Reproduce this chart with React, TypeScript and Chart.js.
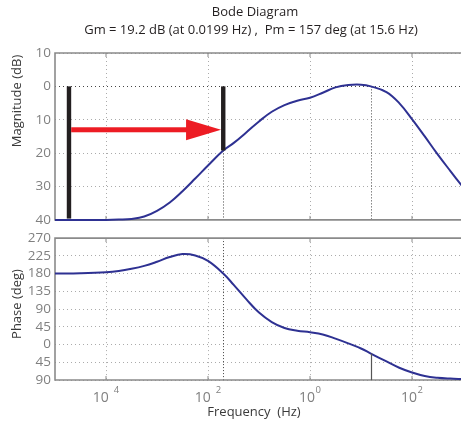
import React, { useEffect, useRef } from 'react';
import { Chart, registerables } from 'chart.js';

Chart.register(...registerables);

// ---------- data ----------
const freqHz = [1e-5, 3.16e-5, 1e-4, 1.78e-4, 3.16e-4, 5.62e-4, 1e-3, 1.78e-3, 3.16e-3, 5.62e-3, 0.01, 0.0199, 0.0316, 0.0562, 0.1, 0.178, 0.316, 0.562, 1, 1.78, 3.16, 5.62, 10, 15.6, 31.6, 56.2, 100, 178, 316, 562, 1000];
const magDb = [-40, -40, -40, -39.9, -39.7, -39.0, -37.3, -34.8, -31.4, -27.6, -23.7, -19.2, -17.0, -13.8, -10.5, -7.6, -5.6, -4.3, -3.4, -1.9, -0.3, 0.4, 0.5, 0, -1.7, -5.0, -9.8, -15.0, -20.3, -25.3, -30.2];
const phaseDeg = [180, 181, 183.5, 186.5, 192, 199.5, 210, 222, 229.5, 226, 212, 180, 152, 115, 81, 57, 42, 35, 31, 25.5, 15, 3, -10, -23, -43, -59, -71, -80, -84.5, -86.5, -87.5];

const xTickExponents = [-4, -2, 0, 2];
const magTicks = [-40, -30, -20, -10, 0, 10];
const phaseTicks = [-90, -45, 0, 45, 90, 135, 180, 225, 270];

const titleLines = ['Bode Diagram', 'Gm = 19.2 dB (at 0.0199 Hz) ,  Pm = 157 deg (at 15.6 Hz)'];
const magLabel = 'Magnitude (dB)';
const phaseLabel = 'Phase (deg)';
const freqLabel = 'Frequency  (Hz)';

// margins
const gmFreqHz = 0.0199;
const gmDb = -19.2;
const pmFreqHz = 15.6;
const pmPhaseDeg = -23;

// annotation marks (data units)
const barFreqsHz = [1.88e-5, 0.0199];
const barTopDb = [0, 0];
const barBottomDb = [-39.6, -19.2];
const arrowDb = -13;

// ---------- styles ----------
const FONT = '"Open Sans", "DejaVu Sans", sans-serif';
const TICK_COLOR = '#808080';
const AXIS_COLOR = '#8a8a8a';
const GRID_COLOR = '#ababab';
const CURVE_COLOR = '#2e3192';
const DARK = '#231f20';
const RED = '#ed1c24';

function frame(chart: any) {
  const { ctx, chartArea: a, scales } = chart;
  ctx.save();
  ctx.strokeStyle = AXIS_COLOR;
  ctx.lineWidth = 1.6;
  ctx.beginPath();
  ctx.moveTo(a.right + 6, a.top);
  ctx.lineTo(a.left, a.top);
  ctx.lineTo(a.left, a.bottom);
  ctx.lineTo(a.right + 6, a.bottom);
  ctx.stroke();
  ctx.lineWidth = 1;
  ctx.beginPath();
  for (const e of xTickExponents) {
    const px = scales.x.getPixelForValue(Math.pow(10, e));
    ctx.moveTo(px, a.top);
    ctx.lineTo(px, a.top + 4);
    ctx.moveTo(px, a.bottom);
    ctx.lineTo(px, a.bottom - 4);
  }
  ctx.stroke();
  ctx.restore();
}

function vline(ctx: any, x: number, y1: number, y2: number, color: string, dash: number[], w: number) {
  ctx.save();
  ctx.strokeStyle = color;
  ctx.lineWidth = w;
  ctx.setLineDash(dash);
  ctx.beginPath();
  ctx.moveTo(x, y1);
  ctx.lineTo(x, y2);
  ctx.stroke();
  ctx.restore();
}

const magPlugin = {
  id: 'magDecor',
  beforeDatasetsDraw(chart: any) {
    const { ctx, chartArea: a, scales } = chart;
    const x = scales.x, y = scales.y;
    vline(ctx, Math.round(x.getPixelForValue(gmFreqHz)) + 0.5, y.getPixelForValue(gmDb), a.bottom, '#444', [1, 2], 1);
    vline(ctx, Math.round(x.getPixelForValue(pmFreqHz)) + 0.5, y.getPixelForValue(0), a.bottom, '#444', [1, 2], 1);
    frame(chart);
  },
  afterDatasetsDraw(chart: any) {
    const { ctx, scales } = chart;
    const x = scales.x, y = scales.y;
    ctx.save();
    ctx.fillStyle = DARK;
    barFreqsHz.forEach((f, i) => {
      const px = x.getPixelForValue(f);
      const t = y.getPixelForValue(barTopDb[i]);
      const b = y.getPixelForValue(barBottomDb[i]);
      ctx.fillRect(px - 2.2, t, 4.4, b - t);
    });
    const x1 = x.getPixelForValue(barFreqsHz[0]) + 2.2;
    const x2 = x.getPixelForValue(barFreqsHz[1]) - 2.2;
    const ya = y.getPixelForValue(arrowDb);
    const headLen = 35;
    const headHalf = 10.5;
    ctx.fillStyle = RED;
    ctx.fillRect(x1, ya - 2.5, x2 - headLen - x1 + 1, 5);
    ctx.beginPath();
    ctx.moveTo(x2, ya);
    ctx.lineTo(x2 - headLen, ya - headHalf);
    ctx.lineTo(x2 - headLen, ya + headHalf);
    ctx.closePath();
    ctx.fill();
    ctx.restore();
  },
  afterDraw(chart: any) {
    const { ctx } = chart;
    ctx.save();
    ctx.fillStyle = DARK;
    ctx.textAlign = 'center';
    ctx.textBaseline = 'alphabetic';
    ctx.font = `13px ${FONT}`;
    ctx.fillText(titleLines[0], 255, 16);
    ctx.fillText(titleLines[1], 251, 34);
    ctx.fillStyle = '#3a3a3a';
    ctx.translate(17, 101);
    ctx.rotate(-Math.PI / 2);
    ctx.textBaseline = 'middle';
    ctx.fillText(magLabel, 0, 0);
    ctx.restore();
  },
};

const phasePlugin = {
  id: 'phaseDecor',
  beforeDatasetsDraw(chart: any) {
    const { ctx, chartArea: a, scales } = chart;
    const x = scales.x;
    vline(ctx, Math.round(x.getPixelForValue(gmFreqHz)) + 0.5, a.top, a.bottom, '#444', [1, 2], 1);
    frame(chart);
  },
  afterDatasetsDraw(chart: any) {
    const { ctx, chartArea: a, scales } = chart;
    const x = scales.x, y = scales.y;
    vline(ctx, Math.round(x.getPixelForValue(pmFreqHz)) + 0.5, y.getPixelForValue(pmPhaseDeg), a.bottom, '#555', [], 1.2);
  },
  afterDraw(chart: any) {
    const { ctx, chartArea: a, scales } = chart;
    ctx.save();
    ctx.fillStyle = TICK_COLOR;
    ctx.textBaseline = 'alphabetic';
    ctx.textAlign = 'left';
    for (const e of xTickExponents) {
      const px = scales.x.getPixelForValue(Math.pow(10, e));
      ctx.font = `14px ${FONT}`;
      const wBase = ctx.measureText('10').width;
      ctx.font = `9.5px ${FONT}`;
      const expText = String(Math.abs(e));
      const wExp = ctx.measureText(expText).width;
      const gap = e < 0 ? 5 : 0.5;
      const total = wBase + gap + wExp;
      const start = px - total / 2;
      ctx.font = `14px ${FONT}`;
      ctx.fillText('10', start, a.bottom + 22);
      ctx.font = `9.5px ${FONT}`;
      ctx.fillText(expText, start + wBase + gap, a.bottom + 13);
    }
    ctx.fillStyle = '#3a3a3a';
    ctx.textAlign = 'center';
    ctx.font = `13px ${FONT}`;
    ctx.fillText(freqLabel, 254, a.bottom + 36);
    ctx.translate(17, 304 - 226);
    ctx.rotate(-Math.PI / 2);
    ctx.textBaseline = 'middle';
    ctx.fillText(phaseLabel, 0, 0);
    ctx.restore();
  },
};

function xScale() {
  return {
    type: 'logarithmic' as const,
    min: 1e-5,
    max: 1e3,
    afterBuildTicks: (s: any) => {
      s.ticks = xTickExponents.map((e) => ({ value: Math.pow(10, e) }));
    },
    afterFit: (s: any) => {
      s.height = 0;
    },
    ticks: { display: false },
    grid: { color: GRID_COLOR, lineWidth: 1, drawTicks: false },
    border: { display: false, dash: [1, 3] },
  };
}

function yScale(ticks: number[], darkZero: boolean) {
  return {
    type: 'linear' as const,
    min: ticks[0],
    max: ticks[ticks.length - 1],
    afterBuildTicks: (s: any) => {
      s.ticks = ticks.map((v) => ({ value: v }));
    },
    afterFit: (s: any) => {
      s.width = 55;
    },
    ticks: {
      autoSkip: false,
      callback: (v: any) => String(Math.abs(Number(v))),
      color: TICK_COLOR,
      font: { family: FONT, size: 13.5 },
      padding: 4,
    },
    grid: {
      color: (c: any) => (darkZero && c.tick && c.tick.value === 0 ? '#444' : GRID_COLOR),
      lineWidth: 1,
      drawTicks: false,
    },
    border: { display: false, dash: [1, 3] },
  };
}

export default function App() {
  const magRef = useRef<HTMLCanvasElement>(null);
  const phRef = useRef<HTMLCanvasElement>(null);

  useEffect(() => {
    const common = {
      animation: false as const,
      responsive: false,
      devicePixelRatio: 1,
      events: [] as any[],
    };
    const c1 = new Chart(magRef.current!, {
      type: 'line',
      data: {
        datasets: [
          {
            data: freqHz.map((f, i) => ({ x: f, y: magDb[i] })),
            borderColor: CURVE_COLOR,
            borderWidth: 2,
            pointRadius: 0,
            tension: 0.4,
            clip: 3,
          },
        ],
      },
      options: {
        ...common,
        layout: { padding: { top: 53, right: 1, bottom: 12, left: 0 } },
        plugins: { legend: { display: false }, tooltip: { enabled: false }, title: { display: false } },
        scales: { x: xScale(), y: yScale(magTicks, true) },
      } as any,
      plugins: [magPlugin],
    });
    const c2 = new Chart(phRef.current!, {
      type: 'line',
      data: {
        datasets: [
          {
            data: freqHz.map((f, i) => ({ x: f, y: phaseDeg[i] })),
            borderColor: CURVE_COLOR,
            borderWidth: 2,
            pointRadius: 0,
            tension: 0.4,
            clip: 3,
          },
        ],
      },
      options: {
        ...common,
        layout: { padding: { top: 7, right: 1, bottom: 46, left: 0 } },
        plugins: { legend: { display: false }, tooltip: { enabled: false }, title: { display: false } },
        scales: { x: xScale(), y: yScale(phaseTicks, false) },
      } as any,
      plugins: [phasePlugin],
    });
    return () => {
      c1.destroy();
      c2.destroy();
    };
  }, []);

  return (
    <div style={{ position: 'fixed', left: 0, top: 0, width: 461, height: 426, overflow: 'hidden', background: '#fff' }}>
      <canvas ref={magRef} width={464} height={232} style={{ position: 'absolute', left: 0, top: 0, width: 464, height: 232 }} />
      <canvas ref={phRef} width={464} height={200} style={{ position: 'absolute', left: 0, top: 226, width: 464, height: 200 }} />
    </div>
  );
}
